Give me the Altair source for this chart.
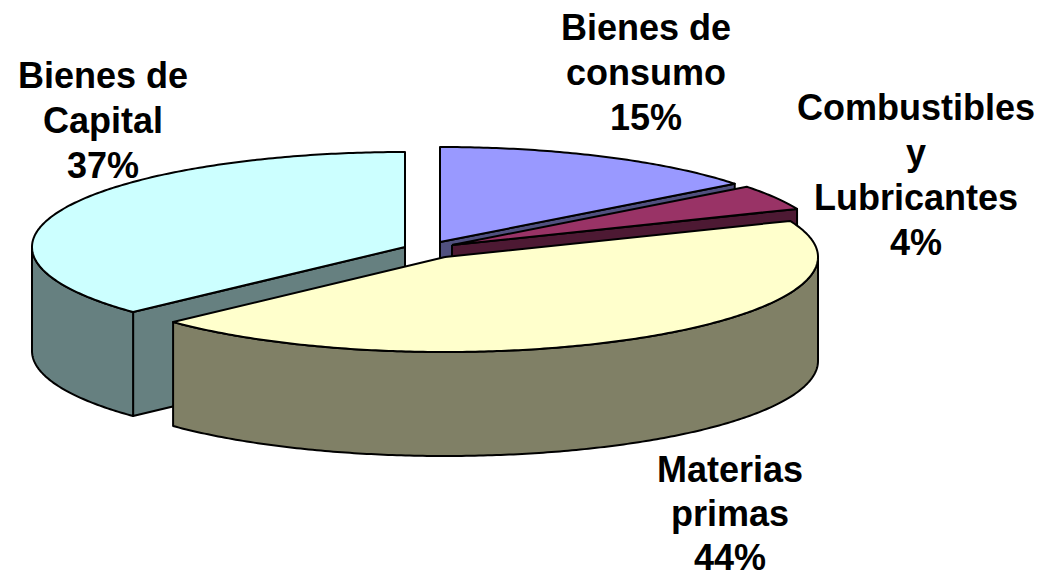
import math
import altair as alt
import pandas as pd

# Slices, clockwise from 12 o'clock
categories = ["Bienes de consumo", "Combustibles y Lubricantes", "Materias primas", "Bienes de Capital"]
shares = [14.5, 4.3, 44.2, 37.0]
label_lines = ["Bienes de\nconsumo\n15%", "Combustibles\ny\nLubricantes\n4%", "Materias\nprimas\n44%", "Bienes de\nCapital\n37%"]
top_colors = ["#9999FF", "#993366", "#FFFFCC", "#CCFFFF"]
side_colors = ["#50507F", "#4D1933", "#808066", "#668080"]

# Layout constants of the exploded pie (picture pixels)
W, H = 1028, 570
centers = [(440, 242), (452, 245), (445, 257), (405, 247)]
RX, RY, DEPTH = 373, 95, 104
label_pos = [(646, 12), (916, 92), (730, 454), (103, 60)]
line_heights = [45, 45, 44, 45]
FONT_SIZE = 36

x_scale = alt.Scale(domain=[8, 8 + W], range=[0, W])
y_scale = alt.Scale(domain=[8, 8 + H], range=[0, H])


def rim(c, deg, dz=0):
    a = math.radians(deg)
    return (c[0] + RX * math.sin(a), c[1] - RY * math.cos(a) + dz)


def arc(c, a0, a1, dz=0):
    n = max(2, int(abs(a1 - a0) * 1.5))
    return [rim(c, a0 + (a1 - a0) * i / n, dz) for i in range(n + 1)]


def poly(points, fill):
    pts = list(points) + [points[0]]
    df = pd.DataFrame({"x": [p[0] for p in pts], "y": [p[1] for p in pts], "i": range(len(pts))})
    return alt.Chart(df).mark_line(
        fill=fill, stroke="black", strokeWidth=2, strokeJoin="round", clip=False
    ).encode(
        x=alt.X("x:Q", scale=x_scale, axis=None),
        y=alt.Y("y:Q", scale=y_scale, axis=None),
        order="i:Q",
    )


total = sum(shares)
angles = [0]
for s in shares:
    angles.append(angles[-1] + s / total * 360)

layers = []
# Paint order: capital first, then the back slices, then the big front slice
for k in [3, 0, 1, 2]:
    c = centers[k]
    a0, a1 = angles[k], angles[k + 1]
    top, side = top_colors[k], side_colors[k]
    if k == 3:
        end = rim(c, a0)
        layers.append(poly([c, end, (end[0], end[1] + DEPTH), (c[0], c[1] + DEPTH)], side))
        layers.append(poly(arc(c, a0, 270) + arc(c, 270, a0, DEPTH), side))
    elif k == 2:
        layers.append(poly(arc(c, 90, a1) + arc(c, a1, 90, DEPTH), side))
    else:
        end = rim(c, a1)
        layers.append(poly([c, end, (end[0], end[1] + DEPTH), (c[0], c[1] + DEPTH)], side))
    layers.append(poly([c] + arc(c, a0, a1), top))

for k in range(4):
    layers.append(
        alt.Chart(pd.DataFrame({"t": [label_lines[k]]})).mark_text(
            font="Liberation Sans", fontWeight="bold", fontSize=FONT_SIZE, color="black",
            align="center", baseline="top", lineBreak="\n", lineHeight=line_heights[k],
        ).encode(
            text="t:N",
            x=alt.value(label_pos[k][0] - 8),
            y=alt.value(label_pos[k][1] - 8),
        )
    )

chart = alt.layer(*layers).properties(
    width=W, height=H, padding=0, background="white", autosize=alt.AutoSizeParams(type="none")
).configure_view(stroke=None)

chart.save("out.html", embed_options={"renderer": "svg", "actions": False})
